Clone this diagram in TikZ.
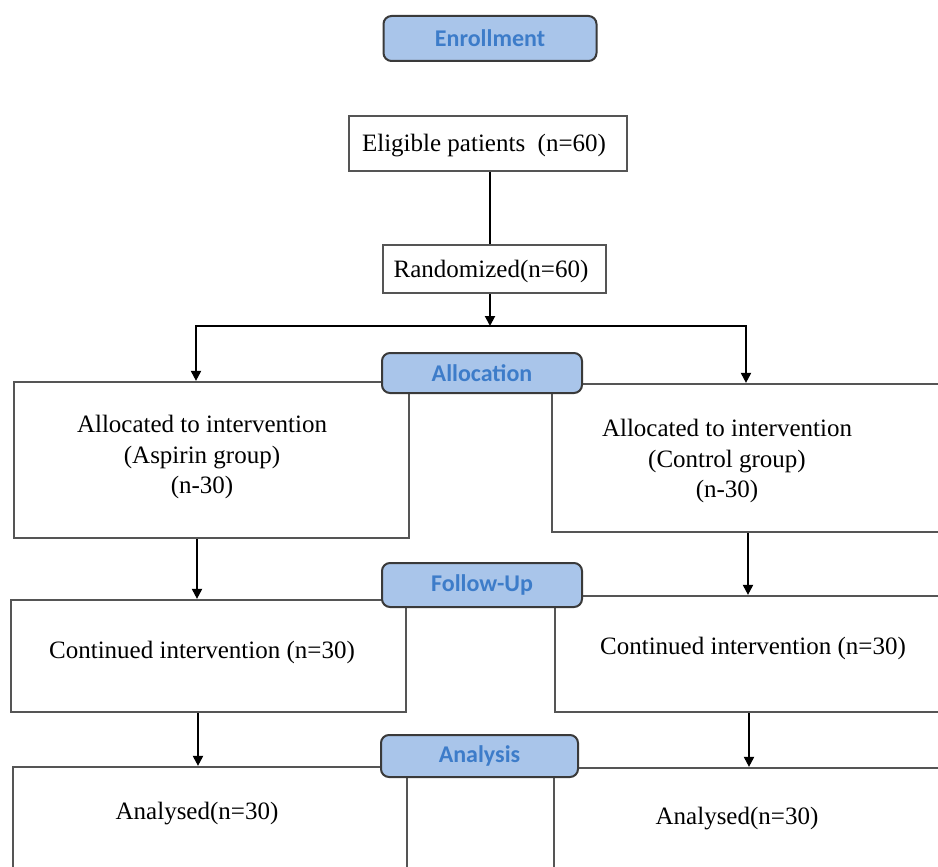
\documentclass[tikz,border=0pt]{standalone}
\usepackage{fontspec}
\setmainfont{Liberation Serif}
\newfontfamily\stagefont{Carlito}
\usetikzlibrary{arrows.meta}
\definecolor{stagefill}{HTML}{A9C5EA}
\definecolor{stagetext}{HTML}{3D7CC9}
\definecolor{stageline}{HTML}{3A3A3A}
\definecolor{boxline}{HTML}{555555}
\begin{document}
\begin{tikzpicture}[x=1pt,y=-1pt,
  box/.style={draw=boxline, line width=2.2pt, inner sep=0pt, font=\fontsize{25}{30}\selectfont},
  txt/.style={inner sep=0pt, align=center, font=\fontsize{25}{30.5}\selectfont},
  stage/.style={draw=stageline, line width=2pt, fill=stagefill, rounded corners=8pt,
    text=stagetext, font=\stagefont\bfseries\fontsize{24}{28}\selectfont,
    minimum width=200pt, minimum height=40pt, inner sep=0pt},
  conn/.style={line width=2pt, draw=black},
  arr/.style={line width=2pt, draw=black, -{Triangle[width=10pt,length=10pt]}}]
\useasboundingbox (0,0) rectangle (938,867);
\clip (0,0) rectangle (938,867);
\fill[white] (0,0) rectangle (938,867);

% enrollment part
\node[stage, minimum width=213pt, minimum height=45pt] (enr) at (490,38.5) {Enrollment};
\node[box, minimum width=278pt, minimum height=55pt] (elig) at (488,143.5) {};
\node[txt] (eligt) at (484,146) {Eligible patients~ (n=60)};
\node[box, minimum width=223pt, minimum height=48pt] (rand) at (494.5,269) {};
\node[txt] (randt) at (491,271) {Randomized(n=60)};

\coordinate (split) at (490,326);
\coordinate (sl) at (196,326);
\coordinate (sr) at (746,326);
\coordinate (lx1) at (197,0);
\coordinate (rx1) at (748,0);
\coordinate (lx2) at (198,0);
\coordinate (rx2) at (749,0);

% boxes
\node[box, minimum width=395pt, minimum height=156pt] (ab) at (211.5,460) {};
\node[box, minimum width=428pt, minimum height=148pt] (cb) at (766,458) {};
\node[box, minimum width=395pt, minimum height=112pt] (ac) at (208.5,656) {};
\node[box, minimum width=425pt, minimum height=116pt] (cc) at (767.5,654) {};
\node[box, minimum width=394pt, minimum height=133pt] (al) at (210,833.5) {};
\node[box, minimum width=426pt, minimum height=132pt] (cl) at (767,834) {};

% texts
\node[txt] (abt) at (202,457) {Allocated to intervention\\(Aspirin group)\\(n-30)};
\node[txt] (cbt) at (727,461) {Allocated to intervention\\(Control group)\\(n-30)};
\node[txt] (act) at (202,652) {Continued intervention (n=30)};
\node[txt] (cct) at (753,648) {Continued intervention (n=30)};
\node[txt] (alt) at (197,814) {Analysed(n=30)};
\node[txt] (clt) at (737,819) {Analysed(n=30)};

% connectors
\draw[conn] (elig.south -| split) -- (rand.north -| split);
\draw[arr] (rand.south -| split) -- (split);
\draw[arr] (split) -- (sl) -- (ab.north -| sl);
\draw[arr] (split) -- (sr) -- (cb.north -| sr);
\draw[arr] (ab.south -| lx1) -- (ac.north -| lx1);
\draw[arr] (cb.south -| rx1) -- (cc.north -| rx1);
\draw[arr] (ac.south -| lx2) -- (al.north -| lx2);
\draw[arr] (cc.south -| rx2) -- (cl.north -| rx2);

% stage labels
\node[stage] (alloc) at (482,373) {Allocation};
\node[stage, minimum height=44pt] (fu) at (482,585) {Follow-Up};
\node[stage, minimum width=197pt, minimum height=42pt] (ana) at (479.5,756) {Analysis};
\end{tikzpicture}
\end{document}
